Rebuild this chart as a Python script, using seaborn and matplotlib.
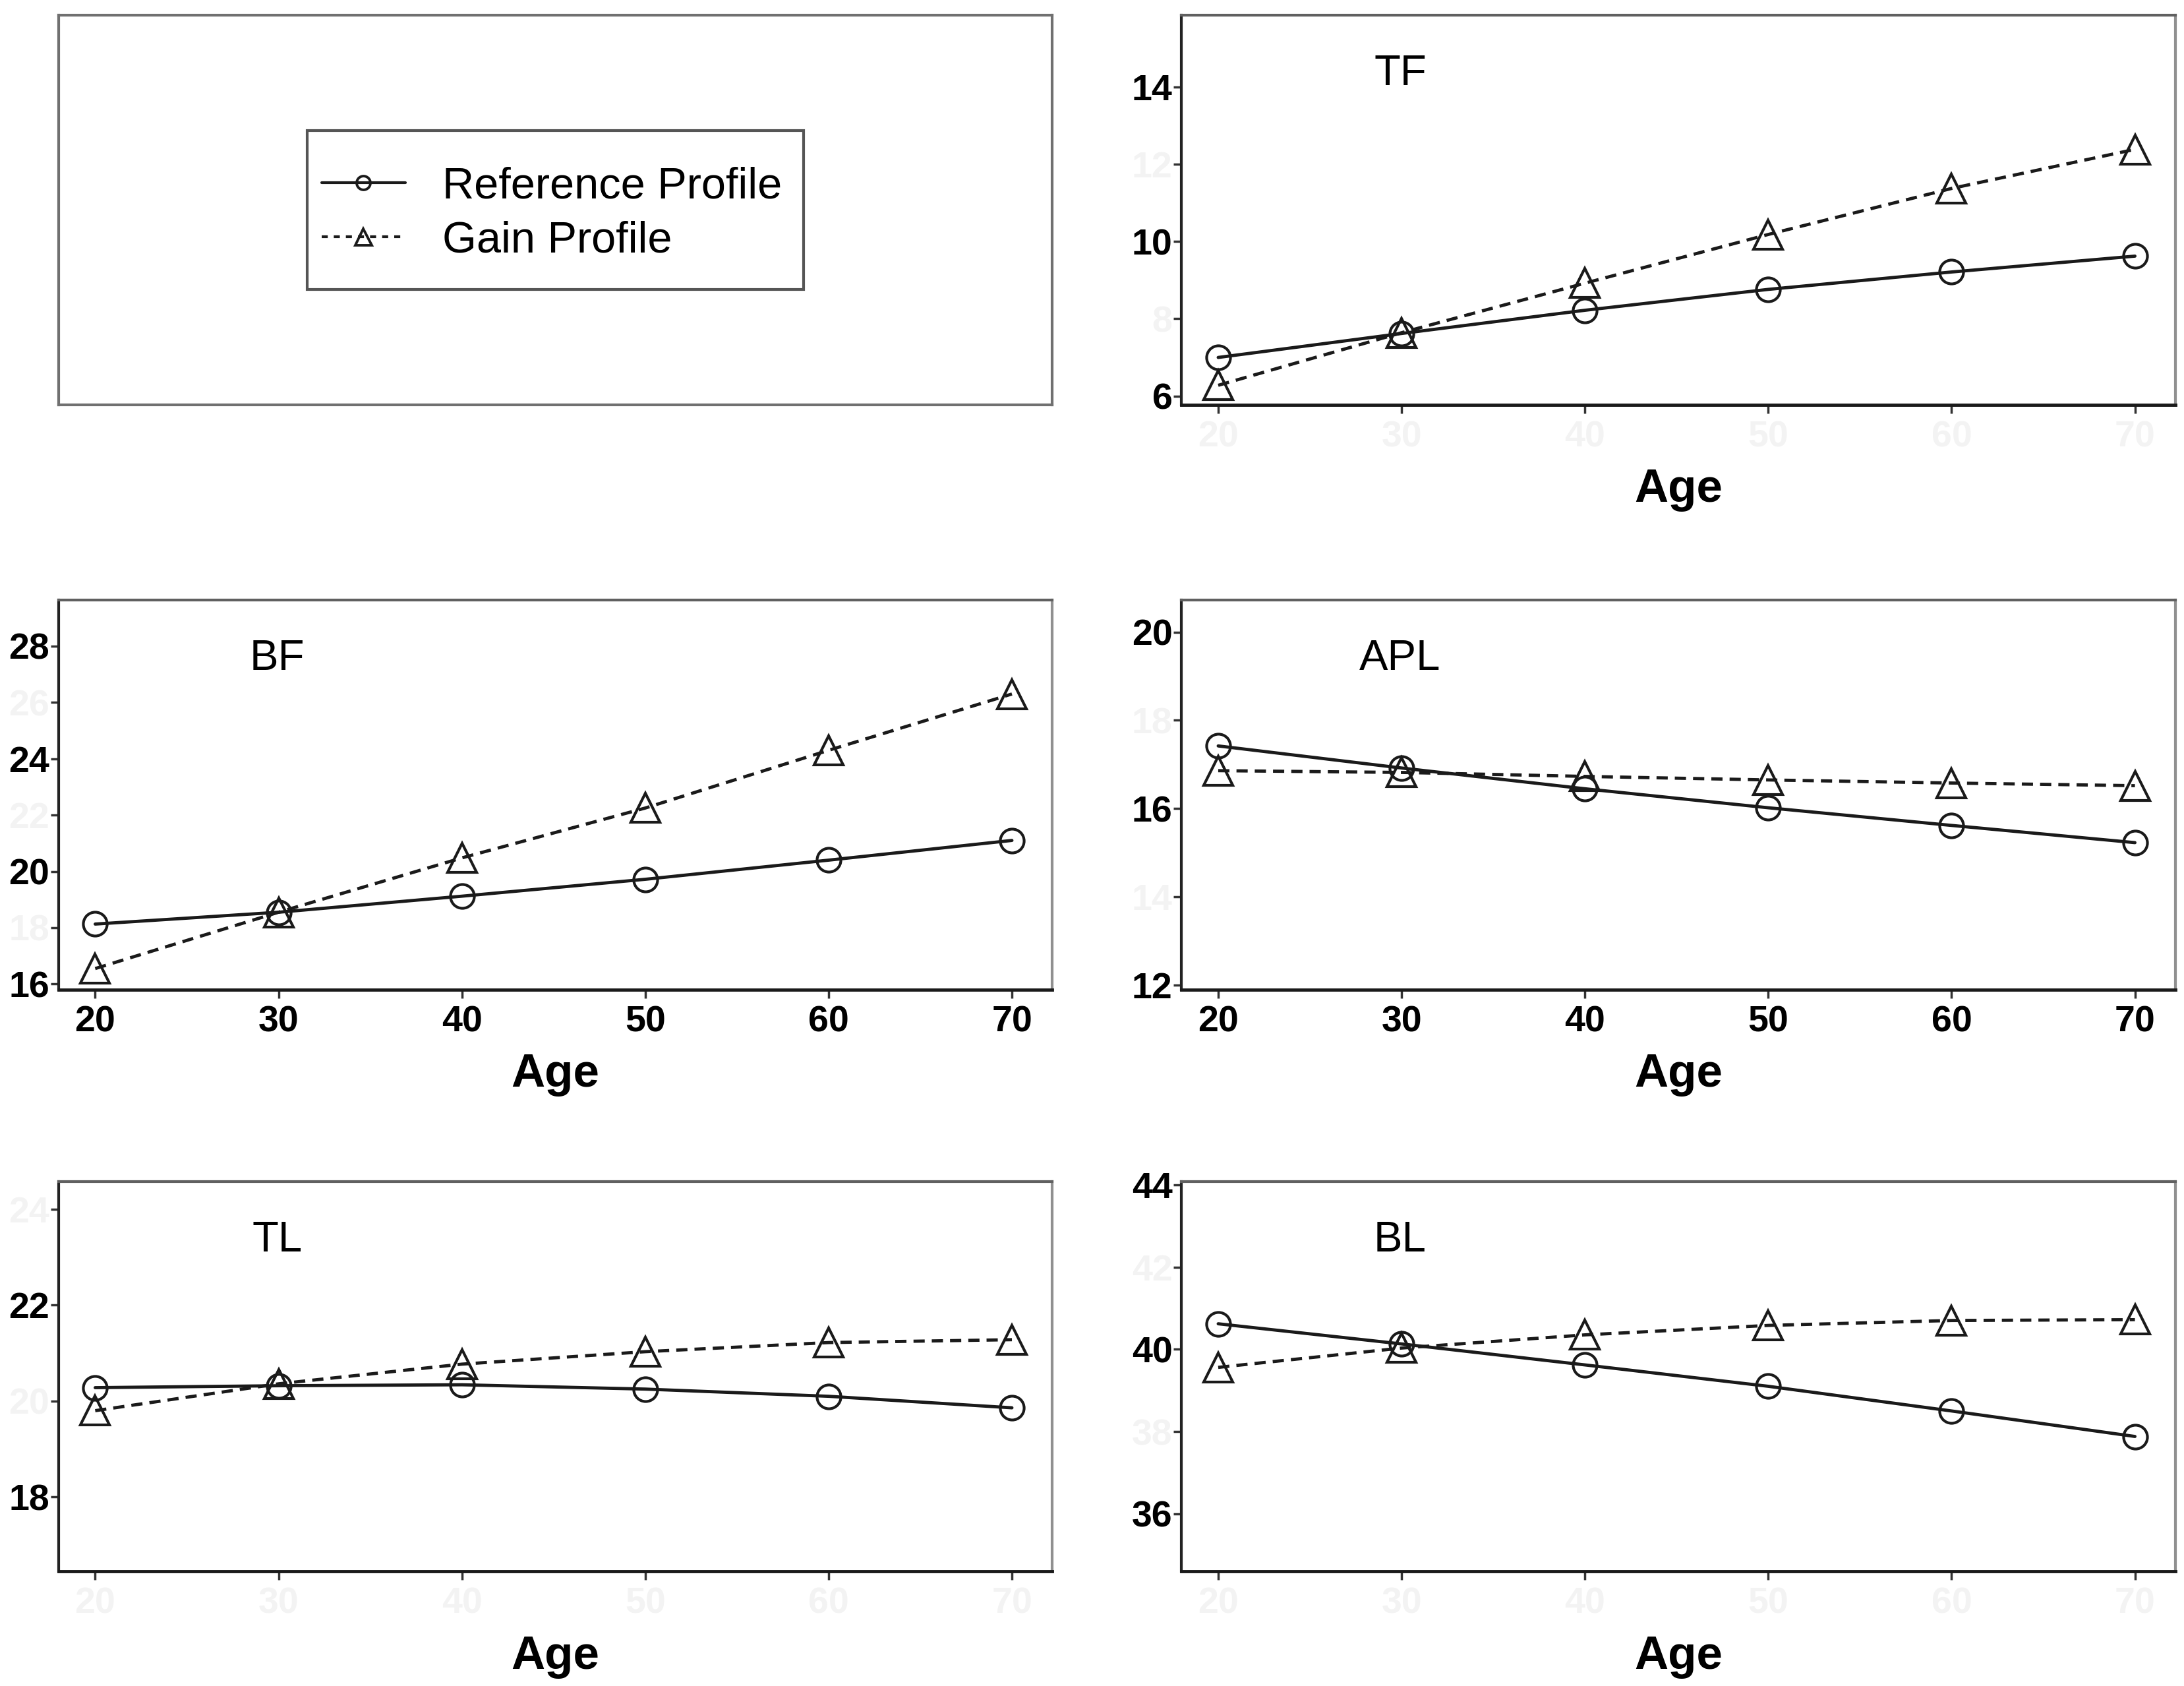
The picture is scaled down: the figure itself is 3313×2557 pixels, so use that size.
import pandas as pd
import seaborn as sns
import matplotlib.pyplot as plt
from matplotlib.lines import Line2D
from matplotlib.patches import Rectangle

# data
ages = [20, 30, 40, 50, 60, 70]

tf_ref = [7.0, 7.62, 8.22, 8.76, 9.21, 9.62]
tf_gain = [6.28, 7.64, 8.92, 10.18, 11.37, 12.38]
bf_ref = [18.13, 18.55, 19.12, 19.72, 20.4, 21.1]
bf_gain = [16.55, 18.55, 20.48, 22.25, 24.3, 26.3]
apl_ref = [17.42, 16.92, 16.45, 16.02, 15.62, 15.23]
apl_gain = [16.86, 16.82, 16.73, 16.65, 16.58, 16.52]
tl_ref = [20.28, 20.32, 20.34, 20.25, 20.1, 19.86]
tl_gain = [19.8, 20.36, 20.77, 21.03, 21.22, 21.28]
bl_ref = [40.62, 40.13, 39.62, 39.1, 38.5, 37.88]
bl_gain = [39.56, 40.03, 40.35, 40.58, 40.7, 40.72]

panel_names = ['TF', 'BF', 'APL', 'TL', 'BL']
ref_profiles = [tf_ref, bf_ref, apl_ref, tl_ref, bl_ref]
gain_profiles = [tf_gain, bf_gain, apl_gain, tl_gain, bl_gain]
y_ticks = [[6, 8, 10, 12, 14], [16, 18, 20, 22, 24, 26, 28], [12, 14, 16, 18, 20],
           [18, 20, 22, 24], [36, 38, 40, 42, 44]]
y_faint = [[8, 12], [18, 22, 26], [14, 18], [20, 24], [38, 42]]
y_limits = [(5.78, 15.85), (15.8, 29.63), (11.9, 20.72), (16.45, 24.57), (34.6, 44.07)]
x_faint = [True, False, False, True, True]

labels = ['Reference Profile', 'Gain Profile']

sns.set_theme(style="white")
plt.rcParams['font.family'] = ['Liberation Sans', 'DejaVu Sans']
plt.rcParams.update({'text.color': 'black', 'axes.labelcolor': 'black',
                     'xtick.color': 'black', 'ytick.color': 'black'})

fig = plt.figure(figsize=(33.13, 25.57), dpi=100)

# axes rects [left, bottom, width, height] in figure fraction
left_col, right_col, w = 0.0268, 0.541, 0.455
rows = [0.760, 0.413, 0.068]
h = 0.231
rects = [(right_col, rows[0]), (left_col, rows[1]), (right_col, rows[1]),
         (left_col, rows[2]), (right_col, rows[2])]

faint_col = '#f3f3f3'
lw = 3.5

# legend panel
lax = fig.add_axes([left_col, rows[0], w, h])
lax.set_xticks([])
lax.set_yticks([])
for s in lax.spines.values():
    s.set_color('#707070')
    s.set_linewidth(3)
lax.add_patch(Rectangle((0.25, 0.296), 0.5, 0.408, transform=lax.transAxes,
                        fill=False, edgecolor='#555555', lw=3))
handles = [Line2D([], [], color='k', lw=3, marker='o', ms=15, mfc='none', mew=2.8),
           Line2D([], [], color='k', lw=3, ls=(0, (2.2, 2.2)), marker='^', ms=18, mfc='none', mew=2.8)]
leg = lax.legend(handles, labels, loc='center', bbox_to_anchor=(0.4965, 0.49), fontsize=48,
                 frameon=False, borderpad=0, handlelength=1.9,
                 handletextpad=0.85, labelspacing=0.3, borderaxespad=0)

for i, name in enumerate(panel_names):
    ax = fig.add_axes([rects[i][0], rects[i][1], w, h])
    df = pd.DataFrame({'Age': ages * 2,
                       'value': ref_profiles[i] + gain_profiles[i],
                       'profile': [labels[0]] * 6 + [labels[1]] * 6})
    sns.lineplot(data=df[df.profile == labels[0]], x='Age', y='value', ax=ax,
                 color='k', lw=lw, marker='o', markersize=26, markerfacecolor='none',
                 markeredgecolor='k', markeredgewidth=3)
    sns.lineplot(data=df[df.profile == labels[1]], x='Age', y='value', ax=ax,
                 color='k', lw=lw, marker='^', markersize=31, markerfacecolor='none',
                 markeredgecolor='k', markeredgewidth=3)
    ax.lines[-1].set_dashes([3.5, 2.2])

    ax.set_xlim(18, 72.2)
    ax.set_ylim(*y_limits[i])
    ax.set_xticks(ages)
    ax.set_yticks(y_ticks[i])
    ax.set_xticklabels([str(a) for a in ages], fontsize=40, fontweight='bold')
    ax.set_yticklabels([str(t) for t in y_ticks[i]], fontsize=40, fontweight='bold')
    for t, lab in zip(y_ticks[i], ax.get_yticklabels()):
        if t in y_faint[i]:
            lab.set_color(faint_col)
    if x_faint[i]:
        for lab in ax.get_xticklabels():
            lab.set_color(faint_col)
    ax.tick_params(axis='both', direction='out', length=9, width=2.5, color='#333333',
                   bottom=True, left=True)
    ax.tick_params(axis='y', pad=1)
    ax.tick_params(axis='x', pad=8)
    ax.set_xlabel('Age', fontsize=51, fontweight='bold', labelpad=15)
    ax.set_ylabel('')
    ax.spines['left'].set_color('#222222')
    ax.spines['bottom'].set_color('k')
    ax.spines['top'].set_color('#606060')
    ax.spines['right'].set_color('#909090')
    for s in ax.spines.values():
        s.set_linewidth(3)
    ax.spines['bottom'].set_linewidth(3.5)
    ax.text(0.22, 0.85, name, transform=ax.transAxes, fontsize=47,
            ha='center', va='center')

fig.savefig('out.png', dpi=100)
